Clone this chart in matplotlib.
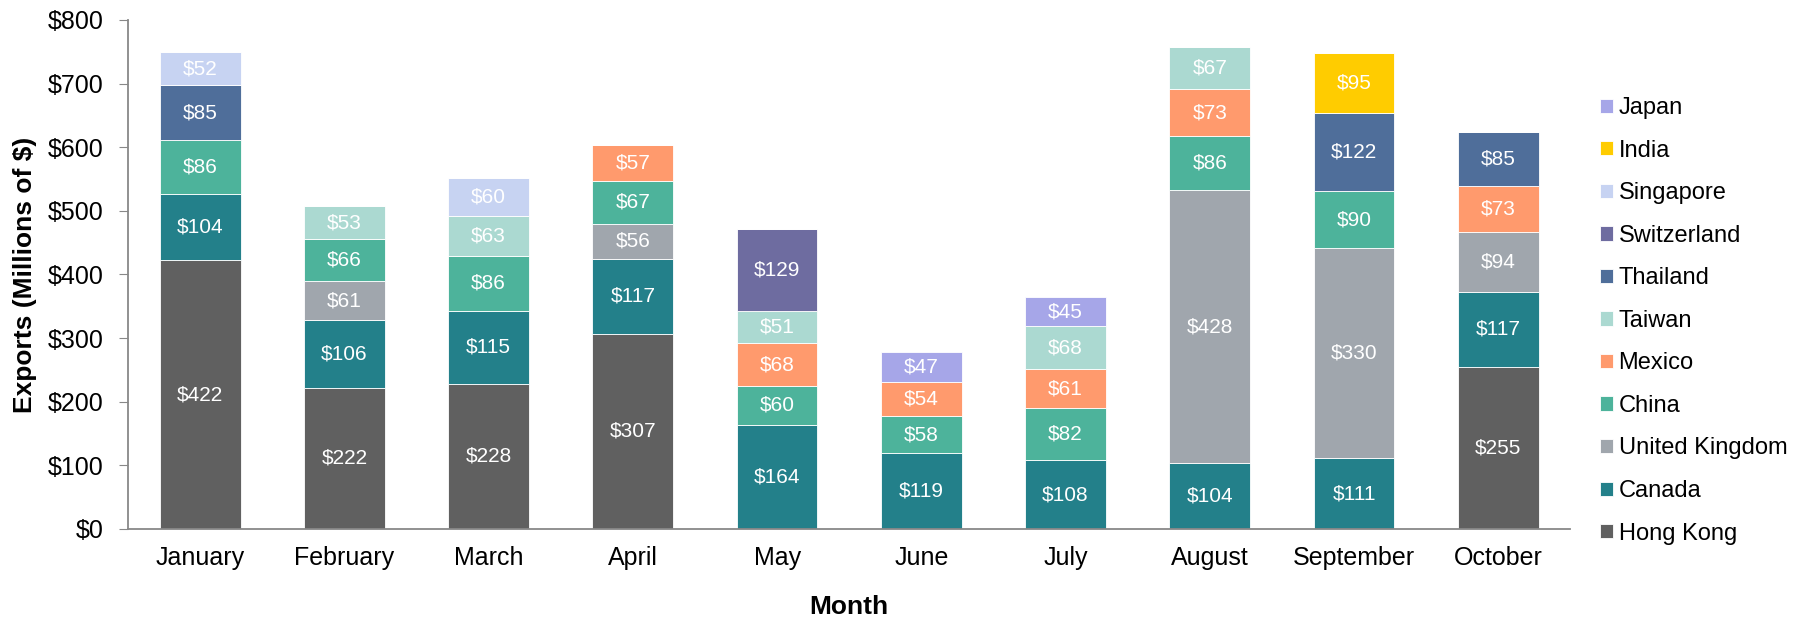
import numpy as np
import matplotlib.pyplot as plt

plt.rcParams['font.family'] = ['Liberation Sans', 'DejaVu Sans']

months = ["January", "February", "March", "April", "May", "June",
          "July", "August", "September", "October"]

# stacking order, bottom to top
countries = ["Hong Kong", "Canada", "United Kingdom", "China", "Mexico", "Taiwan",
             "Thailand", "Switzerland", "Singapore", "India", "Japan"]

hong_kong = [422, 222, 228, 307, 0, 0, 0, 0, 0, 255]
canada = [104, 106, 115, 117, 164, 119, 108, 104, 111, 117]
united_kingdom = [0, 61, 0, 56, 0, 0, 0, 428, 330, 94]
china = [86, 66, 86, 67, 60, 58, 82, 86, 90, 0]
mexico = [0, 0, 0, 57, 68, 54, 61, 73, 0, 73]
taiwan = [0, 53, 63, 0, 51, 0, 68, 67, 0, 0]
thailand = [85, 0, 0, 0, 0, 0, 0, 0, 122, 85]
switzerland = [0, 0, 0, 0, 129, 0, 0, 0, 0, 0]
singapore = [52, 0, 60, 0, 0, 0, 0, 0, 0, 0]
india = [0, 0, 0, 0, 0, 0, 0, 0, 95, 0]
japan = [0, 0, 0, 0, 0, 47, 45, 0, 0, 0]

series = [hong_kong, canada, united_kingdom, china, mexico, taiwan,
          thailand, switzerland, singapore, india, japan]
colors = ["#606060", "#23808A", "#A0A6AD", "#4DB39B", "#FF9A6D", "#ABD9D1",
          "#4F6E9A", "#6E6CA0", "#C7D3F2", "#FFCC00", "#A6A6E8"]

fig = plt.figure(figsize=(18.03, 6.23), dpi=100)
ax = fig.add_axes([0.071, 0.151, 0.8, 0.817])

x = np.arange(len(months))
bottom = np.zeros(len(months))
handles = []
for name, vals, col in zip(countries, series, colors):
    vals = np.array(vals, dtype=float)
    bars = ax.bar(x, vals, 0.56, bottom=bottom, color=col, edgecolor="white",
                  linewidth=0.6, label=name)
    handles.append(bars)
    for xi, v, b in zip(x, vals, bottom):
        if v > 0:
            ax.text(xi, b + v / 2, "$%d" % v, ha="center", va="center",
                    color="white", fontsize=15)
    bottom += vals

ax.set_xlim(-0.5, len(months) - 0.5)
ax.set_ylim(0, 800)
ax.set_yticks(np.arange(0, 801, 100))
ax.set_yticklabels(["$%d" % v for v in range(0, 801, 100)], fontsize=18)
ax.set_xticks(x)
ax.set_xticklabels(months, fontsize=18)
ax.tick_params(axis="x", length=0, pad=12)
ax.tick_params(axis="y", length=6.5, color="#888888", pad=11)
for s in ["top", "right"]:
    ax.spines[s].set_visible(False)
for s in ["left", "bottom"]:
    ax.spines[s].set_color("#888888")
    ax.spines[s].set_linewidth(1.3)

ax.set_xlabel("Month", fontsize=19, fontweight="bold", labelpad=18)
ax.set_ylabel("Exports (Millions of $)", fontsize=19, fontweight="bold", labelpad=8)

fig.legend(handles[::-1], countries[::-1], loc="upper left",
           bbox_to_anchor=(0.8807, 0.863), frameon=False, fontsize=17,
           handlelength=0.55, handleheight=0.55, handletextpad=0.25,
           labelspacing=0.87, borderpad=0)

fig.savefig("out.png", dpi=100)
